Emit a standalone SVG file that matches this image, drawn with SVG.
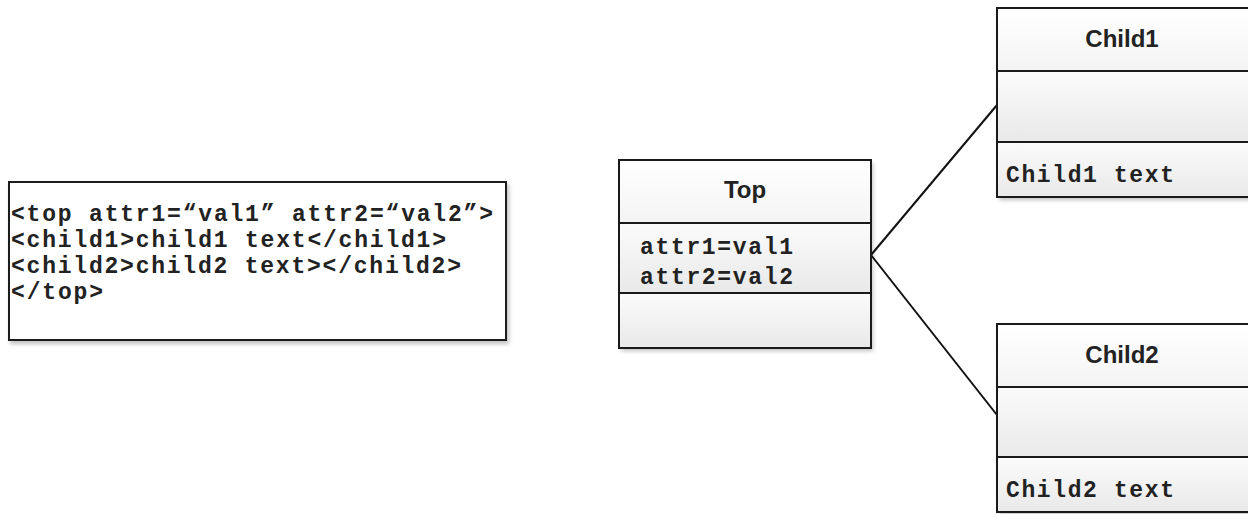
<svg xmlns="http://www.w3.org/2000/svg" width="1248" height="514" viewBox="0 0 1248 514">
  <defs>
    <linearGradient id="comp" x1="0" y1="0" x2="0" y2="1">
      <stop offset="0" stop-color="#fbfbfb"/>
      <stop offset="1" stop-color="#e9e9e9"/>
    </linearGradient>
    <linearGradient id="head" x1="0" y1="0" x2="0" y2="1">
      <stop offset="0" stop-color="#ffffff"/>
      <stop offset="1" stop-color="#f4f4f4"/>
    </linearGradient>
    <filter id="sh" x="-5%" y="-5%" width="115%" height="115%">
      <feGaussianBlur in="SourceAlpha" stdDeviation="2"/>
      <feOffset dx="2" dy="3" result="b"/>
      <feComponentTransfer><feFuncA type="linear" slope="0.25"/></feComponentTransfer>
      <feMerge><feMergeNode/><feMergeNode in="SourceGraphic"/></feMerge>
    </filter>
  </defs>
  <style>
    .box { stroke: #1a1a1a; stroke-width: 2; }
    .div { stroke: #1a1a1a; stroke-width: 2; }
    .mono { font-family: "Liberation Mono", "Courier New", monospace; font-weight: bold; font-size: 23px; fill: #222; }
    .title { font-family: "Liberation Sans", Arial, sans-serif; font-weight: bold; font-size: 24px; fill: #222; text-anchor: middle; }
    .conn { stroke: #111; stroke-width: 2; fill: none; }
  </style>
  <rect width="1248" height="514" fill="#ffffff"/>

  <g id="xml">
    <rect x="9" y="182" width="497" height="158" fill="#ffffff" class="box" filter="url(#sh)"/>
    <text class="mono" x="11" y="221" textLength="482" lengthAdjust="spacing">&lt;top attr1=“val1” attr2=“val2”&gt;</text>
    <text class="mono" x="11" y="247" textLength="435" lengthAdjust="spacing">&lt;child1&gt;child1 text&lt;/child1&gt;</text>
    <text class="mono" x="11" y="273" textLength="450" lengthAdjust="spacing">&lt;child2&gt;child2 text&gt;&lt;/child2&gt;</text>
    <text class="mono" x="11" y="299" textLength="92" lengthAdjust="spacing">&lt;/top&gt;</text>
  </g>

  <g id="connectors">
    <line class="conn" x1="871" y1="255" x2="997" y2="105"/>
    <line class="conn" x1="871" y1="255" x2="997" y2="415"/>
  </g>

  <g id="top">
    <g filter="url(#sh)">
      <rect x="619" y="160" width="252" height="63" fill="url(#head)"/>
      <rect x="619" y="223" width="252" height="70" fill="url(#comp)"/>
      <rect x="619" y="293" width="252" height="55" fill="url(#comp)"/>
    </g>
    <rect x="619" y="160" width="252" height="188" fill="none" class="box"/>
    <line class="div" x1="619" y1="223" x2="871" y2="223"/>
    <line class="div" x1="619" y1="293" x2="871" y2="293"/>
    <text class="title" x="745" y="198">Top</text>
    <text class="mono" x="640" y="254" textLength="153" lengthAdjust="spacing">attr1=val1</text>
    <text class="mono" x="640" y="284" textLength="153" lengthAdjust="spacing">attr2=val2</text>
  </g>

  <g id="child1">
    <g filter="url(#sh)">
      <rect x="997" y="8" width="260" height="63" fill="url(#head)"/>
      <rect x="997" y="71" width="260" height="71" fill="url(#comp)"/>
      <rect x="997" y="142" width="260" height="55" fill="url(#comp)"/>
    </g>
    <rect x="997" y="8" width="260" height="189" fill="none" class="box"/>
    <line class="div" x1="997" y1="71" x2="1257" y2="71"/>
    <line class="div" x1="997" y1="142" x2="1257" y2="142"/>
    <text class="title" x="1122" y="47">Child1</text>
    <text class="mono" x="1006" y="182" textLength="168" lengthAdjust="spacing">Child1 text</text>
  </g>

  <g id="child2">
    <g filter="url(#sh)">
      <rect x="997" y="324" width="260" height="63" fill="url(#head)"/>
      <rect x="997" y="387" width="260" height="70" fill="url(#comp)"/>
      <rect x="997" y="457" width="260" height="55" fill="url(#comp)"/>
    </g>
    <rect x="997" y="324" width="260" height="188" fill="none" class="box"/>
    <line class="div" x1="997" y1="387" x2="1257" y2="387"/>
    <line class="div" x1="997" y1="457" x2="1257" y2="457"/>
    <text class="title" x="1122" y="363">Child2</text>
    <text class="mono" x="1006" y="497" textLength="168" lengthAdjust="spacing">Child2 text</text>
  </g>
</svg>
